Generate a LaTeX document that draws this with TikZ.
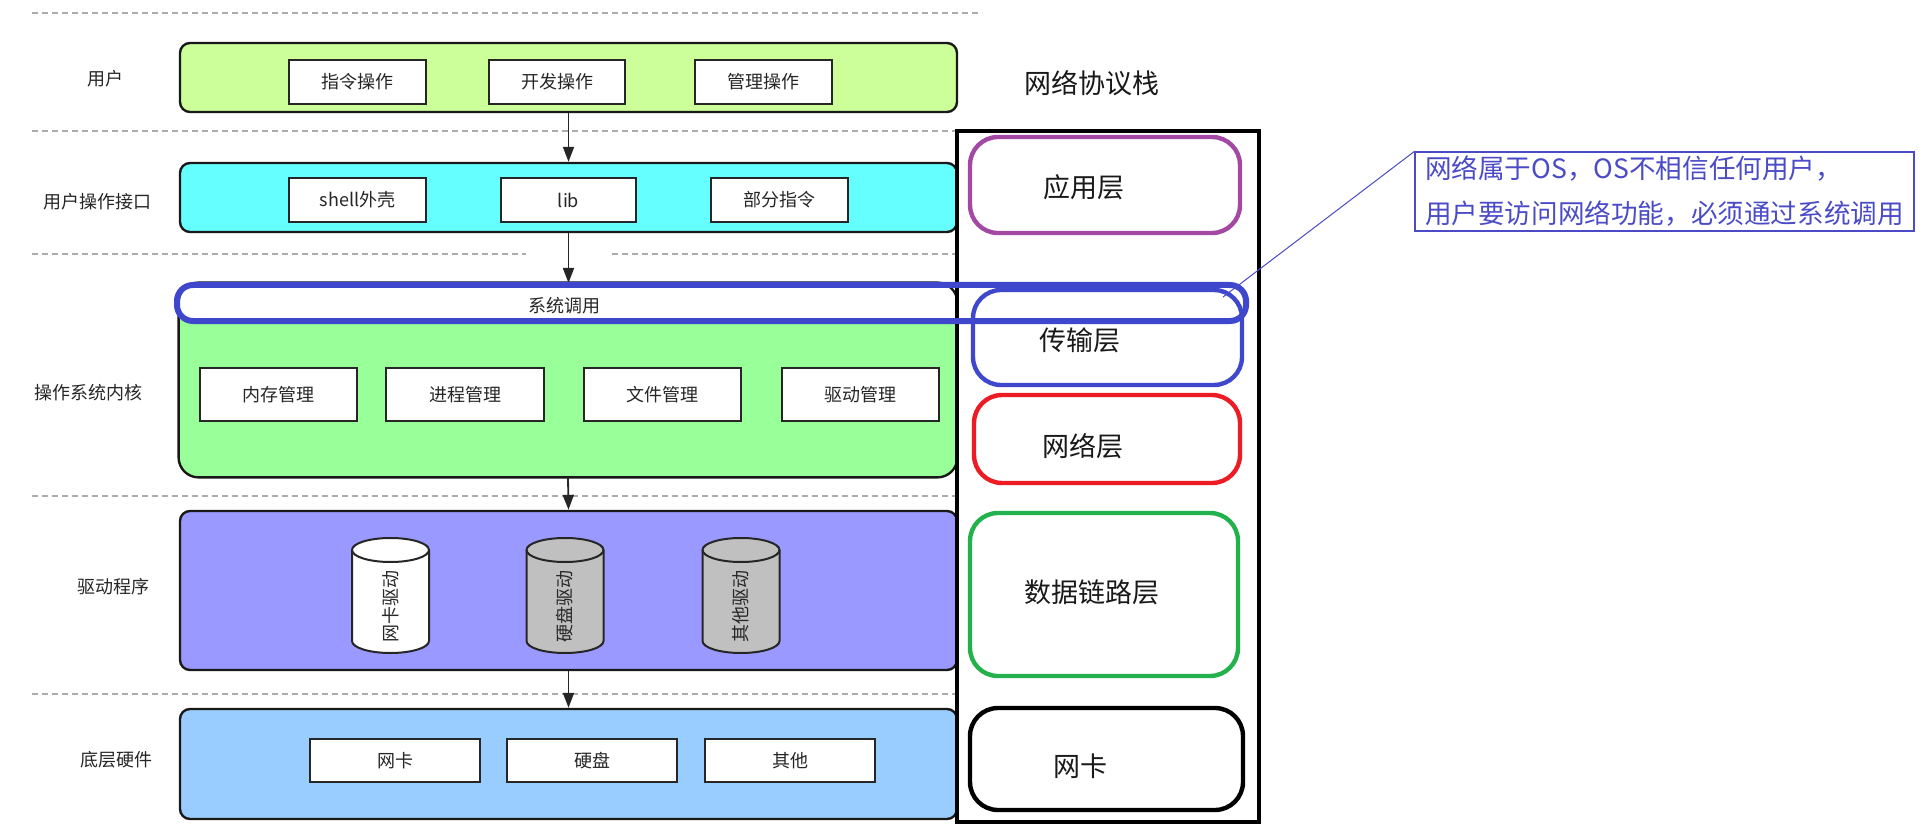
\documentclass[tikz,border=0pt]{standalone}
\usepackage{fontspec}
\setmainfont{Noto Sans CJK SC}
\usetikzlibrary{arrows.meta}
\definecolor{cUser}{HTML}{CCFF99}
\definecolor{cIface}{HTML}{66FFFF}
\definecolor{cKernel}{HTML}{99FF99}
\definecolor{cDriver}{HTML}{9999FF}
\definecolor{cHw}{HTML}{99CCFF}
\definecolor{cGray}{HTML}{C0C0C0}
\definecolor{cPurple}{HTML}{A349A4}
\definecolor{cBlue}{HTML}{3F48CC}
\definecolor{cRed}{HTML}{ED1C24}
\definecolor{cGreen}{HTML}{22B14C}
\definecolor{cNote}{HTML}{4B4BC8}
\newcommand\mycyl[4]{%
  \draw[line width=1pt, draw=black!85, fill=#2] (#1-38.5,550) -- (#1-38.5,641)
    arc[start angle=180,end angle=360,x radius=19.25pt,y radius=6pt] -- (#1+38.5,550)
    arc[start angle=0,end angle=180,x radius=19.25pt,y radius=6pt] -- cycle;
  \draw[line width=1pt, draw=black!85] (#1-38.5,550)
    arc[start angle=180,end angle=360,x radius=19.25pt,y radius=6pt];
  \node[lbl, rotate=90] (#3) at (#1,606) {#4};}
\begin{document}
\begin{tikzpicture}[x=0.5pt,y=-0.5pt,
  layer/.style={draw=black!90, line width=1.2pt, rounded corners=5pt, inner sep=0pt},
  inbox/.style={draw=black!85, line width=1pt, fill=white, inner sep=0pt, font=\fontsize{9}{11}\selectfont, text=black!85},
  lbl/.style={font=\fontsize{9}{11}\selectfont, text=black!85, inner sep=0pt},
  sepline/.style={draw=gray!65, line width=0.75pt, dash pattern=on 3pt off 2pt},
  arr/.style={-{Triangle[length=7.5pt,width=5.5pt]}, line width=0.9pt, draw=black!85, fill=black!85},
  stackbox/.style={line width=2.2pt, rounded corners=14pt, inner sep=0pt},
  big/.style={font=\fontsize{13.5}{16}\selectfont, text=black!90, inner sep=0pt}]
\useasboundingbox (0,0) rectangle (1922,834);
\fill[white] (0,0) rectangle (1922,834);

% separator lines
\draw[sepline] (32,13) -- (982,13);
\draw[sepline] (32,131) -- (957,131);
\draw[sepline] (32,254) -- (526,254);
\draw[sepline] (612,254) -- (957,254);
\draw[sepline] (32,496) -- (957,496);
\draw[sepline] (32,694) -- (957,694);

% left labels
\node[lbl] (lUser) at (105,79) {用户};
\node[lbl] (lIface) at (97,202) {用户操作接口};
\node[lbl] (lKernel) at (88,393) {操作系统内核};
\node[lbl] (lDriver) at (113,587) {驱动程序};
\node[lbl] (lHw) at (116,760) {底层硬件};

% user layer
\node[layer, fill=cUser, minimum width=388.5pt, minimum height=34.5pt] (user) at (568.5,77.5) {};
\node[inbox, minimum width=68.5pt, minimum height=22pt] (u1) at (357.5,82) {指令操作};
\node[inbox, minimum width=68pt, minimum height=22pt] (u2) at (557,82) {开发操作};
\node[inbox, minimum width=68.5pt, minimum height=22pt] (u3) at (763.5,82) {管理操作};

% interface layer
\node[layer, fill=cIface, minimum width=388.5pt, minimum height=34.5pt] (iface) at (568.5,197.5) {};
\node[inbox, minimum width=68.5pt, minimum height=22pt] (i1) at (357.5,200) {shell外壳};
\node[inbox, minimum width=67.5pt, minimum height=22pt] (i2) at (568.5,200) {lib};
\node[inbox, minimum width=68.5pt, minimum height=22pt] (i3) at (779.5,200) {部分指令};

% kernel layer
\node[fill=cKernel, rounded corners=10pt, inner sep=0pt, minimum width=389pt, minimum height=97pt] (kernel) at (568,380) {};
\begin{scope}
  \clip[rounded corners=10pt] (179,283) rectangle (957,477);
  \fill[white] (179,283) rectangle (957,320);
\end{scope}
\draw[line width=1.2pt, draw=black!90, rounded corners=10pt] (kernel.north west) rectangle (kernel.south east);
\node[lbl] (sysText) at (564,306) {系统调用};
\node[inbox, minimum width=78.5pt, minimum height=26.5pt] (k1) at (278.5,394.5) {内存管理};
\node[inbox, minimum width=79pt, minimum height=26.5pt] (k2) at (465,394.5) {进程管理};
\node[inbox, minimum width=78.5pt, minimum height=26.5pt] (k3) at (662.5,394.5) {文件管理};
\node[inbox, minimum width=78.5pt, minimum height=26.5pt] (k4) at (860.5,394.5) {驱动管理};

% driver layer
\node[layer, fill=cDriver, minimum width=388.5pt, minimum height=79.5pt] (driver) at (568.5,590.5) {};
\mycyl{390.5}{white}{d1}{网卡驱动}
\mycyl{565}{cGray}{d2}{硬盘驱动}
\mycyl{741}{cGray}{d3}{其他驱动}

% hardware layer
\node[layer, fill=cHw, minimum width=388.5pt, minimum height=55pt] (hw) at (568.5,764) {};
\node[inbox, minimum width=85pt, minimum height=21.5pt] (h1) at (395,760.5) {网卡};
\node[inbox, minimum width=85pt, minimum height=21.5pt] (h2) at (592,760.5) {硬盘};
\node[inbox, minimum width=85pt, minimum height=21.5pt] (h3) at (790,760.5) {其他};

% arrows
\draw[arr] (user.south) -- (iface.north);
\draw[arr] (iface.south) -- (568.5,283);
\draw[arr] (kernel.south) -- (driver.north);
\draw[arr] (driver.south) -- (hw.north);

% network protocol stack
\node[big] (stackTitle) at (1092,83) {网络协议栈};
\node[draw=black, line width=2pt, inner sep=0pt, minimum width=151pt, minimum height=345.5pt] (stack) at (1108,476.5) {};
\node[stackbox, draw=cPurple, minimum width=135pt, minimum height=48pt] (app) at (1105,185) {};
\node[big] (appText) at (1084,187) {应用层};
\node[stackbox, draw=cBlue, minimum width=134.5pt, minimum height=47.5pt] (trans) at (1107.5,337.5) {};
\node[big] (transText) at (1080,340) {传输层};
\node[stackbox, draw=cRed, minimum width=133pt, minimum height=44pt] (net) at (1107,439) {};
\node[big] (netText) at (1083,446) {网络层};
\node[stackbox, draw=cGreen, minimum width=134pt, minimum height=81.5pt] (link) at (1104,594.5) {};
\node[big] (linkText) at (1092,592) {数据链路层};
\node[stackbox, draw=black, minimum width=136.5pt, minimum height=51pt] (nic) at (1106.5,759) {};
\node[big] (nicText) at (1080,766) {网卡};

% system call highlight band
\node[draw=cBlue, line width=3pt, rounded corners=8pt, inner sep=0pt, minimum width=534.5pt, minimum height=18pt] (syscall) at (711.5,303) {};

% callout
\node[draw=cNote, line width=0.6pt, inner sep=0pt, minimum width=249.5pt, minimum height=39.5pt,
      align=left, text=cNote, font=\fontsize{13.3}{22.5}\selectfont] (note) at (1664.5,191.5)
      {网络属于OS，OS不相信任何用户，\\用户要访问网络功能，必须通过系统调用};
\coordinate (tip) at (1223,297);
\draw[draw=cNote, line width=0.5pt] (note.north west) -- (tip);
\end{tikzpicture}
\end{document}
